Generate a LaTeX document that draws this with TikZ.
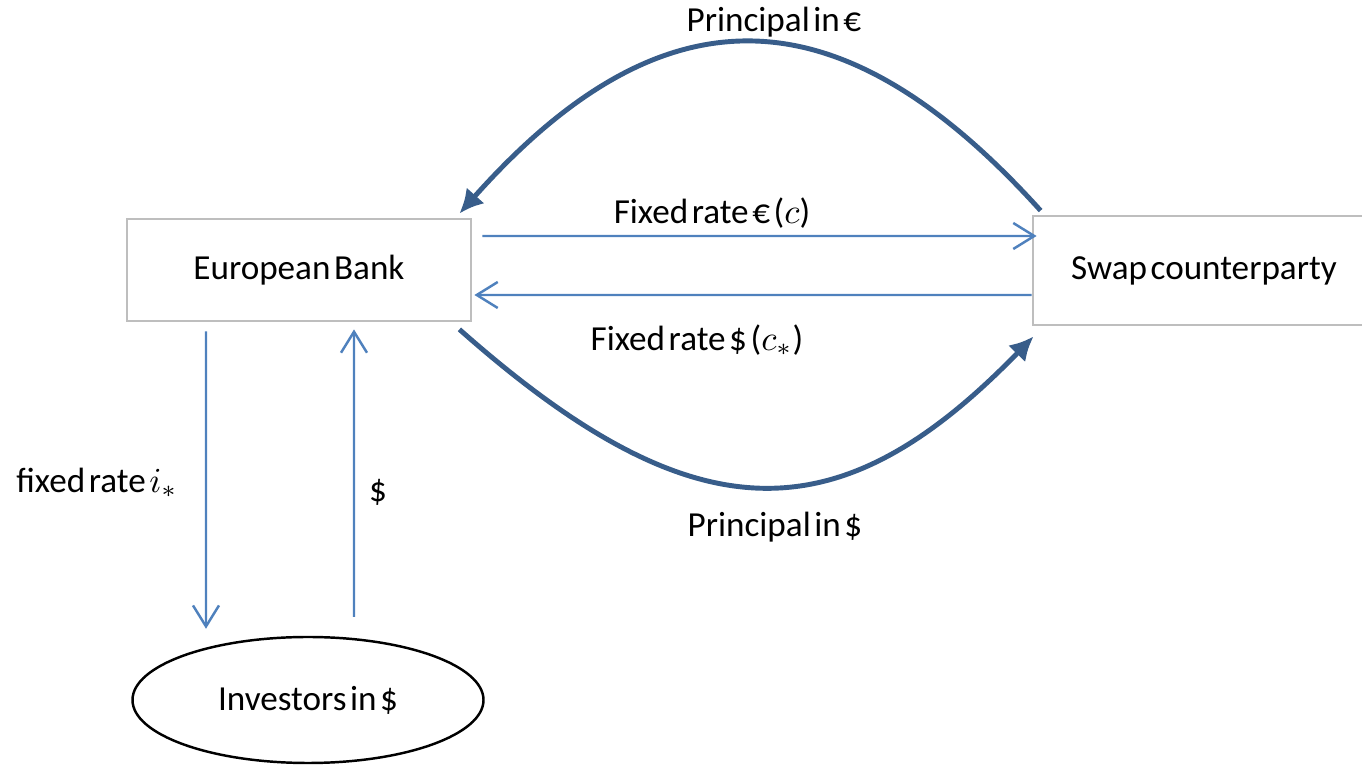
\documentclass[tikz,border=0pt]{standalone}
\usepackage{fontspec}
\setmainfont[WordSpace=0.45]{Carlito}
\usetikzlibrary{arrows.meta,shapes.geometric}
\definecolor{flowblue}{RGB}{79,129,189}
\definecolor{princblue}{RGB}{56,93,138}
\definecolor{boxgray}{RGB}{190,190,190}

\begin{document}
\begin{tikzpicture}[
        party/.style={draw=boxgray, line width=0.8pt, minimum width=3.44cm, minimum height=1.02cm},
        flow/.style={flowblue, line width=0.7pt, -{Straight Barb[length=2.1mm,width=2.6mm]}},
        principal/.style={princblue, line width=1.4pt, -{Latex[length=2.4mm,width=2.4mm]}},
        font=\fontsize{10}{12}\selectfont]
        \useasboundingbox (0,0) rectangle (13.62,7.65);
        % the two swap parties
        \node[party] (bank) at (2.99,4.95) {European Bank};
        \node[party, minimum width=3.42cm, minimum height=1.09cm] (swap) at (12.04,4.945) {Swap counterparty};
        % investors
        \node[draw, ellipse, line width=0.7pt, minimum width=3.51cm, minimum height=1.26cm] (inv) at (3.08,0.65) {Investors in \$};
        % coupon legs
        \draw[flow] ([shift={(0.1,0.34)}]bank.east) -- ([shift={(0.05,0.345)}]swap.west);
        \draw[flow] ([shift={(0,-0.245)}]swap.west) -- ([shift={(0.02,-0.25)}]bank.east);
        \node (clbl) at (7.12,5.52) {Fixed rate € ($c$)};
        \node (cstarlbl) at (6.97,4.25) {Fixed rate \$ ($c_*$)};
        % principal exchanges
        \draw[principal] ([shift={(0.09,0.04)}]swap.north west) .. controls +(-2.02,2.24) and +(2.02,2.27) .. ([shift={(-0.13,0.04)}]bank.north east);
        \node (eurlbl) at (7.74,7.43) {Principal in €};
        \draw[principal] ([shift={(-0.13,-0.07)}]bank.south east) .. controls +(2.35,-2.08) and +(-1.95,-2.01) .. ([shift={(0.02,-0.10)}]swap.south west);
        \node (usdlbl) at (7.75,2.38) {Principal in \$};
        % bond with the investors
        \draw[flow] ([shift={(-0.93,-0.09)}]bank.south) -- ([shift={(-1.02,0.07)}]inv.north);
        \node (ilbl) at (0.97,2.82) {fixed rate $i_*$};
        \draw[flow] ([shift={(0.46,0.19)}]inv.north) -- ([shift={(0.55,-0.07)}]bank.south);
        \node (dollbl) at (3.78,2.73) {\$};
    \end{tikzpicture}
\end{document}
